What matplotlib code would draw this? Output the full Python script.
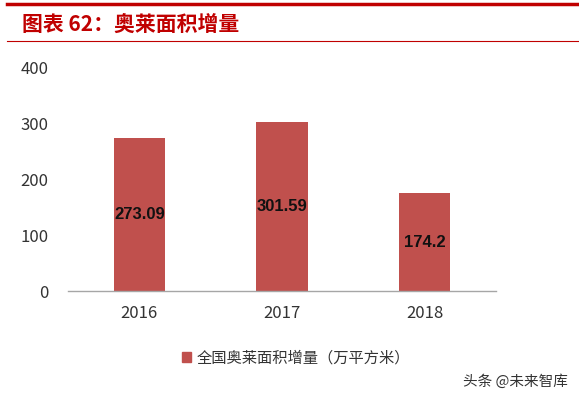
import matplotlib.pyplot as plt
from matplotlib.lines import Line2D

plt.rcParams['font.family'] = ['Noto Sans CJK SC', 'DejaVu Sans']

years = ["2016", "2017", "2018"]
area_increase = [273.09, 301.59, 174.2]
value_labels = ["273.09", "301.59", "174.2"]
y_ticks = [0, 100, 200, 300, 400]

bar_color = "#C0504D"
title_red = "#C00000"

fig = plt.figure(figsize=(5.79, 3.99), dpi=100)
ax = fig.add_axes([68 / 579, 1 - 291 / 399, 428 / 579, 224 / 399])

x = range(len(years))
bars = ax.bar(x, area_increase, width=0.36, color=bar_color, zorder=2)
for b, lab in zip(bars, value_labels):
    ax.text(b.get_x() + b.get_width() / 2, b.get_height() / 2, lab,
            ha="center", va="center", fontsize=12, fontweight="bold",
            color="#111111", family=["Liberation Sans"])

ax.set_xlim(-0.5, 2.5)
ax.set_ylim(0, 400)
ax.set_yticks(y_ticks)
ax.set_xticks(list(x))
ax.set_xticklabels(years)
ax.tick_params(axis="both", length=0, labelsize=12, colors="#333333")
ax.tick_params(axis="y", pad=14)
ax.tick_params(axis="x", pad=10)
for s in ["top", "right", "left"]:
    ax.spines[s].set_visible(False)
ax.spines["bottom"].set_color("#A6A6A6")
ax.spines["bottom"].set_linewidth(1.0)

# header lines and title
fig.add_artist(Line2D([7 / 579, 1], [1 - 4 / 399] * 2, color=title_red, lw=2.5))
fig.add_artist(Line2D([7 / 579, 1], [1 - 41 / 399] * 2, color=title_red, lw=0.8))
fig.text(22 / 579, 1 - 24 / 399, "图表 62：奥莱面积增量", color=title_red,
         fontsize=15, fontweight="bold", va="center", ha="left")

# legend
handle = plt.Rectangle((0, 0), 1, 1, color=bar_color)
fig.legend([handle], ["全国奥莱面积增量（万平方米）"], loc="center left",
           bbox_to_anchor=(168 / 579, 1 - 358 / 399), frameon=False,
           fontsize=11, handlelength=0.6, handleheight=0.6, handletextpad=0.4,
           labelcolor="#333333")

# watermark
fig.text(568 / 579, 1 - 382 / 399, "头条 @未来智库", color="#333333",
         fontsize=10.5, ha="right", va="center")

fig.savefig("out.png", dpi=100)
